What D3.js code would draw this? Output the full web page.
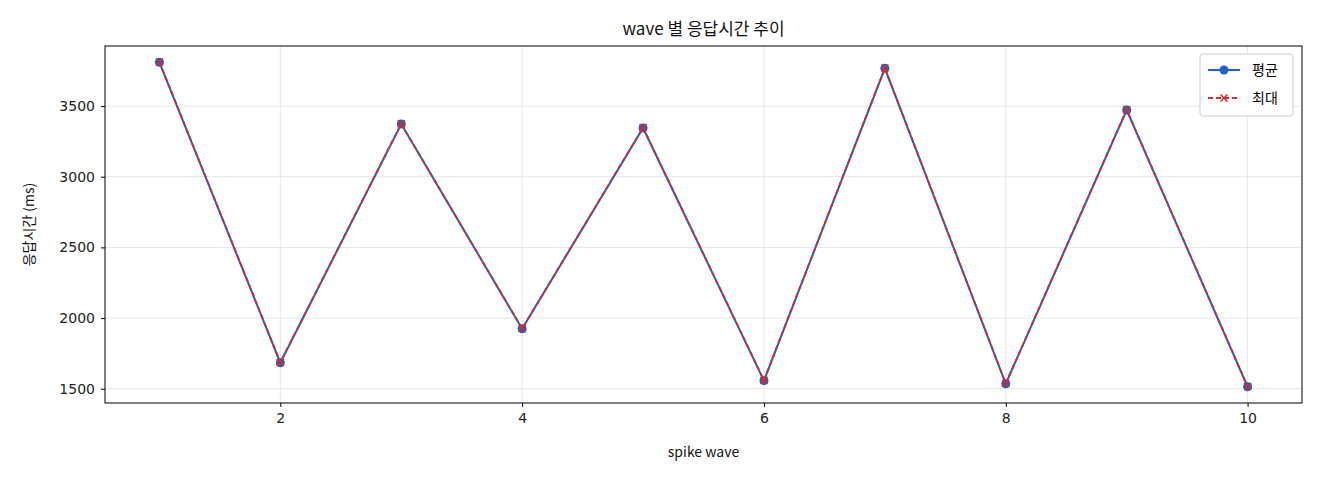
<!DOCTYPE html>
<html><head><meta charset="utf-8">
<script src="https://cdn.jsdelivr.net/npm/d3@7"></script>
<style>body{margin:0;background:#fff;font-family:"Noto Sans CJK KR","DejaVu Sans",sans-serif;}</style>
</head><body><svg id="c" width="1320" height="480"></svg>
<script>
var waves = [1,2,3,4,5,6,7,8,9,10];
var avgMs = [3810,1684,3373,1924,3345,1557,3767,1535,3472,1514];
var maxMs = [3812,1686,3375,1926,3347,1559,3769,1537,3474,1516];
var xTicks = [2,4,6,8,10];
var yTicks = [1500,2000,2500,3000,3500];

var svg = d3.select('#c');
var L = 105, R = 1302, T = 46, B = 403;
var x = d3.scaleLinear().domain([0.55, 10.45]).range([L, R]);
var y = d3.scaleLinear().domain([1399, 3925]).range([B, T]);

// grid
svg.append('g').selectAll('line').data(xTicks).enter().append('line')
  .attr('x1', d => x(d)).attr('x2', d => x(d)).attr('y1', T).attr('y2', B)
  .attr('stroke', '#e6e6e6');
svg.append('g').selectAll('line').data(yTicks).enter().append('line')
  .attr('y1', d => y(d)).attr('y2', d => y(d)).attr('x1', L).attr('x2', R)
  .attr('stroke', '#e6e6e6');

var gx = svg.append('g').attr('transform', 'translate(0,' + B + ')')
  .call(d3.axisBottom(x).tickValues(xTicks).tickFormat(d3.format('d')).tickSize(4).tickPadding(6));
var gy = svg.append('g').attr('transform', 'translate(' + L + ',0)')
  .call(d3.axisLeft(y).tickValues(yTicks).tickFormat(d3.format('d')).tickSize(4).tickPadding(6));
[gx, gy].forEach(function(g) {
  g.attr('font-family', 'DejaVu Sans').attr('font-size', 14);
  g.select('.domain').remove();
  g.selectAll('text').attr('fill', '#222');
});
svg.append('rect').attr('x', L).attr('y', T).attr('width', R - L).attr('height', B - T)
  .attr('fill', 'none').attr('stroke', '#000');

var line = d3.line().x((d, i) => x(waves[i])).y(d => y(d));
svg.append('path').datum(avgMs).attr('d', line).attr('fill', 'none')
  .attr('stroke', '#1f62c4').attr('stroke-width', 2);
svg.append('g').selectAll('circle').data(avgMs).enter().append('circle')
  .attr('cx', (d, i) => x(waves[i])).attr('cy', d => y(d)).attr('r', 4.5).attr('fill', '#1f62c4');
svg.append('path').datum(maxMs).attr('d', line).attr('fill', 'none')
  .attr('stroke', '#d62b2b').attr('stroke-width', 1.8).attr('stroke-dasharray', '5,3');
svg.append('g').selectAll('path').data(maxMs).enter().append('path')
  .attr('d', 'M-3.5,-3.5L3.5,3.5M-3.5,3.5L3.5,-3.5')
  .attr('transform', (d, i) => 'translate(' + x(waves[i]) + ',' + y(d) + ')')
  .attr('stroke', '#d62b2b').attr('stroke-width', 1.6);

// titles
svg.append('text').attr('x', (L + R) / 2).attr('y', 35).attr('text-anchor', 'middle')
  .attr('font-size', 17).attr('fill', '#111').text('wave 별 응답시간 추이');
svg.append('text').attr('x', (L + R) / 2).attr('y', 457).attr('text-anchor', 'middle')
  .attr('font-size', 14).attr('fill', '#111').text('spike wave');
svg.append('text').attr('transform', 'translate(34,' + ((T + B) / 2) + ') rotate(-90)')
  .attr('text-anchor', 'middle').attr('font-size', 14).attr('fill', '#111').text('응답시간 (ms)');

// legend
var lg = svg.append('g').attr('transform', 'translate(1200,54)');
lg.append('rect').attr('width', 93).attr('height', 62).attr('rx', 3)
  .attr('fill', '#fff').attr('stroke', '#ccc');
lg.append('line').attr('x1', 8).attr('x2', 40).attr('y1', 16).attr('y2', 16)
  .attr('stroke', '#1f62c4').attr('stroke-width', 2);
lg.append('circle').attr('cx', 24).attr('cy', 16).attr('r', 4.5).attr('fill', '#1f62c4');
lg.append('text').attr('x', 52).attr('y', 21).attr('font-size', 14).text('평균');
lg.append('line').attr('x1', 8).attr('x2', 40).attr('y1', 44).attr('y2', 44)
  .attr('stroke', '#d62b2b').attr('stroke-width', 1.8).attr('stroke-dasharray', '5,3');
lg.append('path').attr('d', 'M20.5,40.5L27.5,47.5M20.5,47.5L27.5,40.5')
  .attr('stroke', '#d62b2b').attr('stroke-width', 1.6);
lg.append('text').attr('x', 52).attr('y', 49).attr('font-size', 14).text('최대');
</script></body></html>
